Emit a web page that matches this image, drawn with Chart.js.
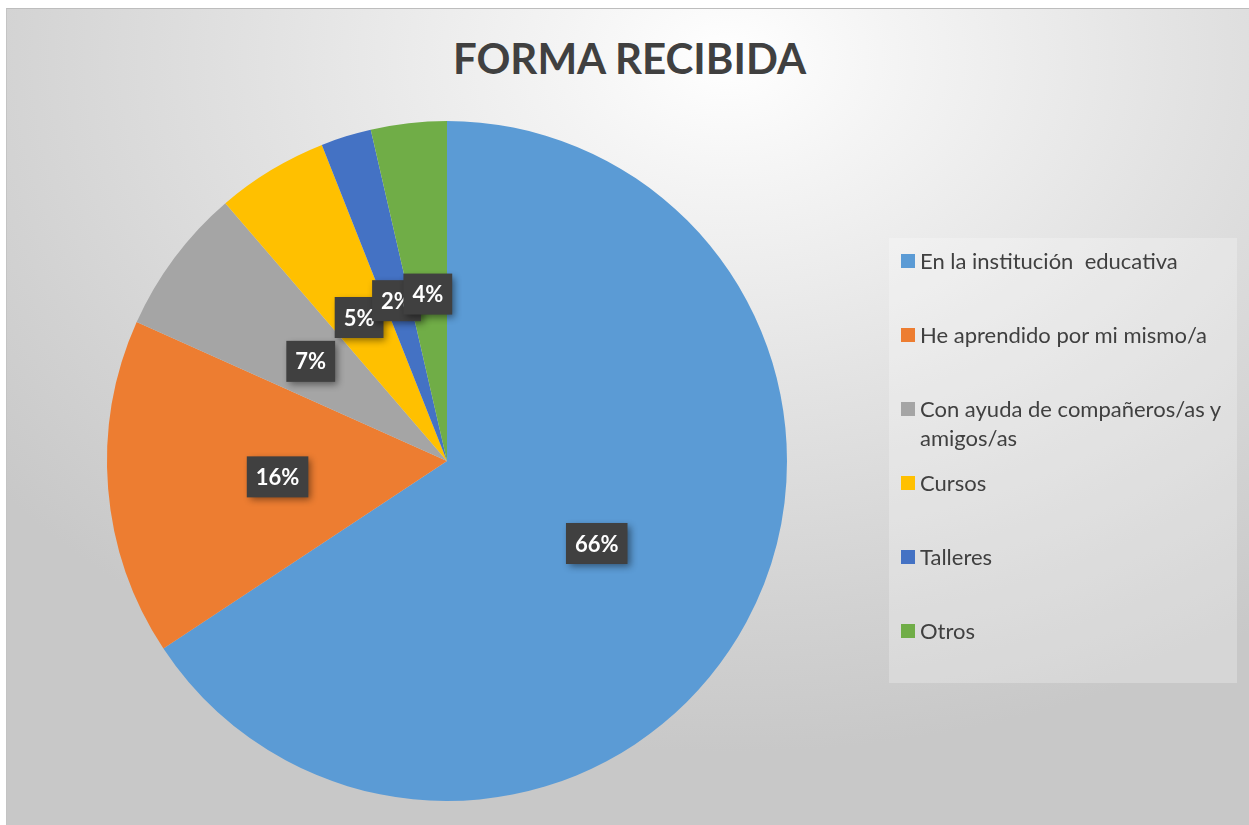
<!DOCTYPE html>
<html>
<head>
<meta charset="utf-8">
<script src="https://cdn.jsdelivr.net/npm/chart.js@4"></script>
<style>
  body { margin: 0; background: #ffffff; }
  #frame {
    position: absolute; left: 6px; top: 8px; width: 1243px; height: 817px;
    border-top: 1px solid #bdbdbd; border-left: 1px solid #c4c4c4;
    background: radial-gradient(ellipse 75% 85% at 58% 6%, #ffffff 0%, #f4f4f4 18%, #e2e2e2 50%, #d2d2d2 80%, #c8c8c8 100%);
  }
  #title {
    position: absolute; left: 0; top: 33px; width: 1259px; text-align: center;
    font: bold 42px Lato, sans-serif; color: #404040;
  }
  #chartCanvas { position: absolute; left: 0; top: 0; }
  #legend {
    position: absolute; left: 889px; top: 238px; width: 348px; height: 445px;
    background: rgba(255, 255, 255, 0.25);
  }
  .item { position: absolute; left: 12px; width: 334px; font: 22px Lato, sans-serif; color: #404040; line-height: 29px; }
  .item .box { position: absolute; left: 0; top: 8px; width: 14px; height: 14px; }
  .item .txt { position: absolute; left: 19px; width: 316px; white-space: pre-wrap; }
</style>
</head>
<body>
<div id="frame"></div>
<div id="title">FORMA RECIBIDA</div>
<canvas id="chartCanvas" width="1249" height="825"></canvas>
<div id="legend"></div>
<script>
// chart values (share of answers, in %)
const categories = [
    'En la institución  educativa',
    'He aprendido por mi mismo/a',
    'Con ayuda de compañeros/as y amigos/as',
    'Cursos',
    'Talleres',
    'Otros'
];
const values = [65.7, 16.0, 7.0, 5.3, 2.4, 3.6];
const colors = ['#5B9BD5', '#ED7D31', '#A5A5A5', '#FFC000', '#4472C4', '#70AD47'];

// Draws the dark percentage boxes in the middle of each slice, like Excel does
const labelBoxes = {
    id: 'labelBoxes',
    afterDatasetsDraw(chart) {
        const ctx = chart.ctx;
        const meta = chart.getDatasetMeta(0);
        const data = chart.data.datasets[0].data;
        const total = data.reduce((a, b) => a + b, 0);
        ctx.save();
        ctx.font = 'bold 22px Lato, sans-serif';
        ctx.textAlign = 'center';
        ctx.textBaseline = 'middle';
        meta.data.forEach((arc, i) => {
            const pos = arc.tooltipPosition();
            const text = Math.round(data[i] / total * 100) + '%';
            const w = ctx.measureText(text).width + 18;
            const h = 41;
            // box with a soft shadow toward bottom right
            ctx.shadowColor = 'rgba(0, 0, 0, 0.45)';
            ctx.shadowBlur = 7;
            ctx.shadowOffsetX = 3;
            ctx.shadowOffsetY = 3;
            ctx.fillStyle = '#404040';
            ctx.fillRect(pos.x - w / 2, pos.y + 2 - h / 2, w, h);
            ctx.shadowColor = 'transparent';
            ctx.fillStyle = '#ffffff';
            ctx.fillText(text, pos.x, pos.y + 3);
        });
        ctx.restore();
    }
};

const chart = new Chart(document.getElementById('chartCanvas'), {
    type: 'pie',
    data: {
        labels: categories,
        datasets: [{
            data: values,
            backgroundColor: colors,
            borderWidth: 0
        }]
    },
    options: {
        responsive: false,
        animation: false,
        layout: { padding: { left: 107, right: 462, top: 121, bottom: 24 } },
        plugins: {
            legend: { display: false },
            tooltip: { enabled: false }
        }
    },
    plugins: [labelBoxes]
});

// HTML legend built from the chart's labels and colours
const legendBox = document.getElementById('legend');
chart.data.labels.forEach((label, i) => {
    const item = document.createElement('div');
    item.className = 'item';
    item.style.top = (261 + 74 * i - 238 - 15) + 'px';
    const sw = document.createElement('div');
    sw.className = 'box';
    sw.style.background = chart.data.datasets[0].backgroundColor[i];
    const txt = document.createElement('div');
    txt.className = 'txt';
    txt.textContent = label;
    item.appendChild(sw);
    item.appendChild(txt);
    legendBox.appendChild(item);
});
</script>
</body>
</html>
